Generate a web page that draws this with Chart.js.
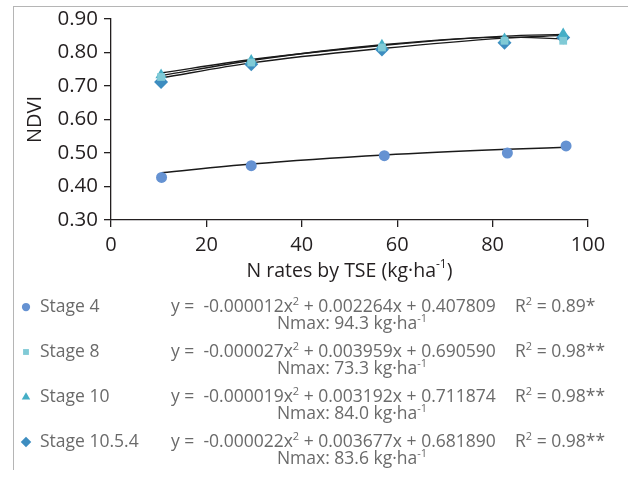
<!DOCTYPE html>
<html>
<head>
<meta charset="utf-8">
<script src="https://cdn.jsdelivr.net/npm/chart.js@4.4.0/dist/chart.umd.min.js"></script>
<style>
  html, body { margin: 0; padding: 0; background: #fff; }
  #wrap { position: relative; width: 628px; height: 484px; }
  #frame { position: absolute; left: 13px; top: 6px; right: -2px; bottom: 14px;
           border-top: 1.5px solid #b5b5b5; border-left: 1.5px solid #b5b5b5; }
  canvas { position: absolute; left: 0; top: 0; }
</style>
</head>
<body>
<div id="wrap">
  <div id="frame"></div>
  <canvas id="chart" width="628" height="484"></canvas>
</div>
<script>
const stageNames = ['Stage 4', 'Stage 8', 'Stage 10', 'Stage 10.5.4'];
const pointColors = ['#6592d2', '#80cad6', '#45aec6', '#3d8dc0'];
const pointStyles = ['circle', 'rect', 'triangle', 'rectRot'];
const pointSizes = [5.5, 5.5, 6.5, 7];

// N rates (x) of the measured points
const xStage4 = [10.6, 29.4, 57.3, 83.1, 95.4];
const xUpper = [10.5, 29.4, 56.8, 82.5, 94.8];

// measured NDVI
const ndviStage4 = [0.427, 0.462, 0.492, 0.500, 0.521];
const ndviStage8 = [0.727, 0.770, 0.815, 0.835, 0.835];
const ndviStage10 = [0.733, 0.776, 0.822, 0.840, 0.855];
const ndviStage1054 = [0.712, 0.765, 0.809, 0.829, 0.845];

// fitted curves at the same rates
const fitStage4 = [0.441, 0.467, 0.494, 0.511, 0.517];
const fitStage8 = [0.731, 0.776, 0.823, 0.846, 0.841];
const fitStage10 = [0.739, 0.779, 0.821, 0.849, 0.854];
const fitStage1054 = [0.724, 0.769, 0.812, 0.843, 0.851];

const xTicks = [0, 20, 40, 60, 80, 100];
const yTicks = [0.30, 0.40, 0.50, 0.60, 0.70, 0.80, 0.90];

// legend texts, '^' marks a superscript piece
const equations = [
    ['y =  -0.000012x', '^2', ' + 0.002264x + 0.407809'],
    ['y =  -0.000027x', '^2', ' + 0.003959x + 0.690590'],
    ['y =  -0.000019x', '^2', ' + 0.003192x + 0.711874'],
    ['y =  -0.000022x', '^2', ' + 0.003677x + 0.681890']
];
const r2Labels = [' = 0.89*', ' = 0.98**', ' = 0.98**', ' = 0.98**'];
const nmaxValues = ['94.3', '73.3', '84.0', '83.6'];

const FONT = '"Open Sans", sans-serif';
const INK = '#231f20';
const GREY = '#6a6a6a';

function toXY(xs, ys) {
    return xs.map((x, i) => ({ x: x, y: ys[i] }));
}

const pointSets = [
    toXY(xStage4, ndviStage4),
    toXY(xUpper, ndviStage8),
    toXY(xUpper, ndviStage10),
    toXY(xUpper, ndviStage1054)
];
const fitSets = [
    toXY(xStage4, fitStage4),
    toXY(xUpper, fitStage8),
    toXY(xUpper, fitStage10),
    toXY(xUpper, fitStage1054)
];

const datasets = [];
fitSets.forEach((d, i) => {
    datasets.push({
        type: 'line',
        label: stageNames[i] + ' fit',
        data: d,
        borderColor: '#1a1a1a',
        borderWidth: 1.4,
        pointRadius: 0,
        fill: false,
        cubicInterpolationMode: 'monotone',
        order: 2
    });
});
pointSets.forEach((d, i) => {
    datasets.push({
        type: 'scatter',
        label: stageNames[i],
        data: d,
        pointStyle: pointStyles[i],
        pointRadius: pointSizes[i],
        backgroundColor: pointColors[i],
        borderColor: pointColors[i],
        borderWidth: 0,
        order: 1
    });
});

function drawRich(ctx, parts, x, y, size, align) {
    const big = size + 'px ' + FONT;
    const small = Math.round(size * 0.62) + 'px ' + FONT;
    let total = 0;
    parts.forEach(p => {
        ctx.font = p[0] === '^' ? small : big;
        total += ctx.measureText(p[0] === '^' ? p.slice(1) : p).width;
    });
    let cx = align === 'center' ? x - total / 2 : x;
    ctx.textAlign = 'left';
    ctx.textBaseline = 'middle';
    parts.forEach(p => {
        const sup = p[0] === '^';
        const t = sup ? p.slice(1) : p;
        ctx.font = sup ? small : big;
        ctx.fillText(t, cx, sup ? y - size * 0.32 : y);
        cx += ctx.measureText(t).width;
    });
}

const legendPlugin = {
    id: 'stageLegend',
    afterDraw(chart) {
        const ctx = chart.ctx;
        const area = chart.chartArea;
        ctx.save();

        // x axis title with superscript
        ctx.fillStyle = INK;
        drawRich(ctx, ['N rates by TSE (kg·ha', '^-1', ')'], (area.left + area.right) / 2, 271, 19.5, 'center');

        const rowY = [307, 352, 397, 442];
        stageNames.forEach((name, i) => {
            const y = rowY[i];
            ctx.fillStyle = pointColors[i];
            Chart.helpers.drawPoint(ctx, {
                pointStyle: pointStyles[i],
                radius: pointSizes[i] * 0.75,
                rotation: 0,
                borderWidth: 0
            }, 26, y);

            ctx.fillStyle = GREY;
            drawRich(ctx, [name], 40, y, 17.5, 'left');
            drawRich(ctx, equations[i], 171, y, 17.5, 'left');
            drawRich(ctx, ['R', '^2', r2Labels[i]], 515, y, 17.5, 'left');
            drawRich(ctx, ['Nmax: ' + nmaxValues[i] + ' kg·ha', '^-1'], 352, y + 17, 17.5, 'center');
        });
        ctx.restore();
    }
};

new Chart(document.getElementById('chart').getContext('2d'), {
    type: 'scatter',
    data: { datasets: datasets },
    options: {
        responsive: false,
        animation: false,
        events: [],
        layout: { padding: { top: 19, right: 40, bottom: 200, left: 19 } },
        plugins: {
            legend: { display: false },
            tooltip: { enabled: false }
        },
        scales: {
            x: {
                type: 'linear',
                min: 0,
                max: 100,
                afterBuildTicks: scale => { scale.ticks = xTicks.map(v => ({ value: v })); },
                ticks: { color: INK, font: { family: FONT, size: 20 }, padding: 6 },
                grid: { drawOnChartArea: false, drawTicks: true, tickLength: 7, color: INK, lineWidth: 1.3 },
                border: { display: true, color: INK, width: 1.3 },
                afterFit: scale => { scale.height = 64; }
            },
            y: {
                type: 'linear',
                min: 0.3,
                max: 0.9,
                afterBuildTicks: scale => { scale.ticks = yTicks.map(v => ({ value: v })); },
                ticks: { color: INK, font: { family: FONT, size: 20.5 }, padding: 6,
                         callback: v => v.toFixed(2) },
                grid: { drawOnChartArea: false, drawTicks: true, tickLength: 7, color: INK, lineWidth: 1.3 },
                border: { display: true, color: INK, width: 1.3 },
                title: { display: true, text: 'NDVI', color: INK, font: { family: FONT, size: 20 }, padding: 4 },
                afterFit: scale => { scale.width = 92; }
            }
        }
    },
    plugins: [legendPlugin]
});
</script>
</body>
</html>
